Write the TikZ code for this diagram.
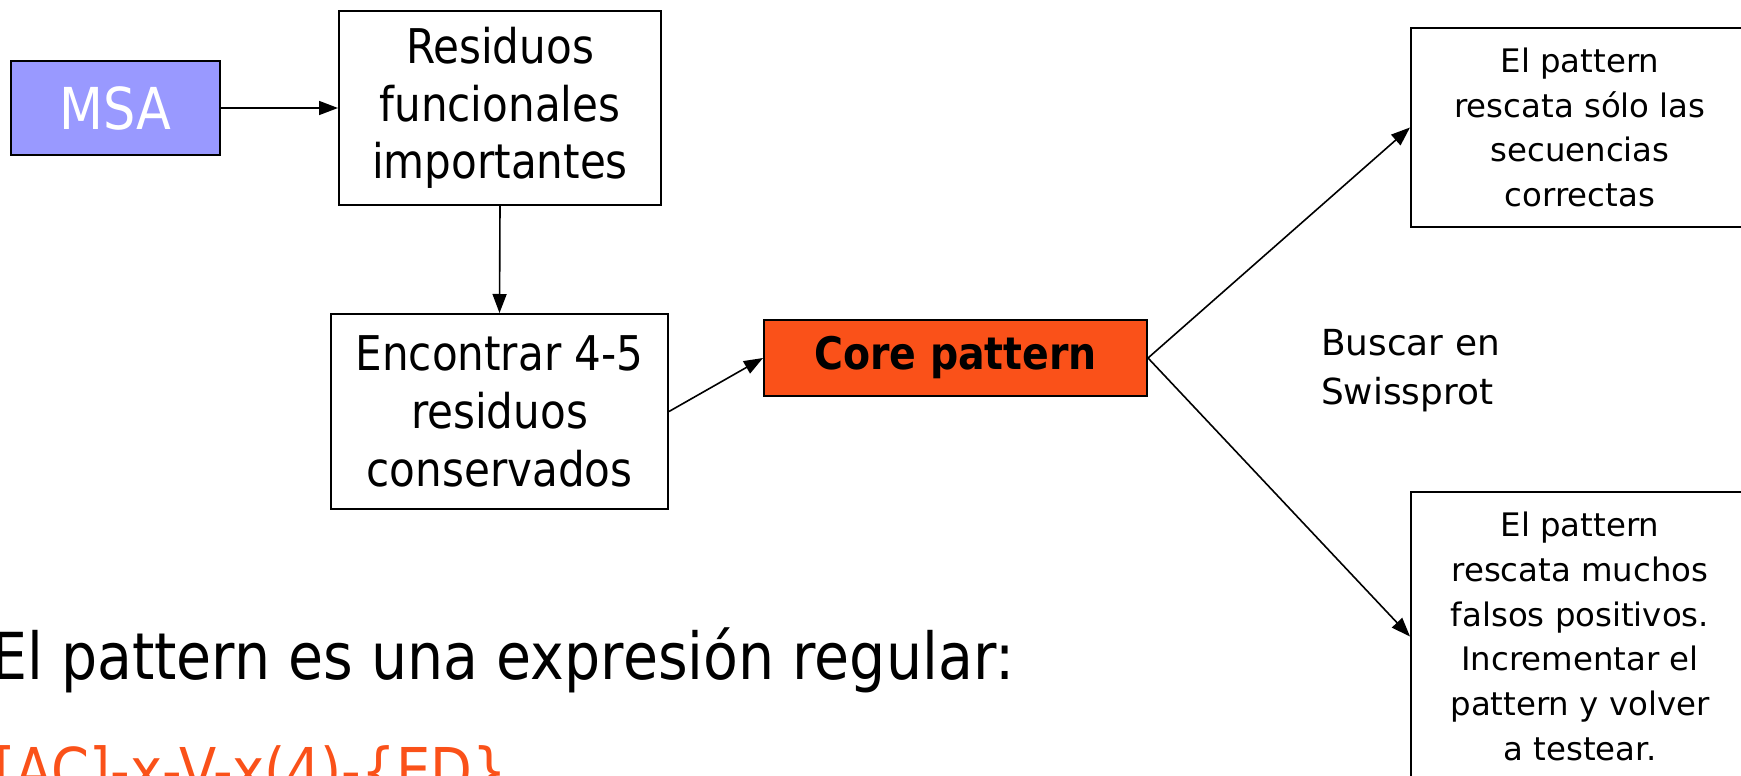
\documentclass[tikz,border=0pt]{standalone}
\usepackage{fontspec}
\setmainfont{DejaVu Sans}
\newfontfamily\narrowsans{DejaVu Sans}[FakeStretch=0.88]
\usetikzlibrary{arrows.meta}
\definecolor{msablue}{HTML}{9999FF}
\definecolor{coreorange}{HTML}{FA5119}

\begin{document}
\begin{tikzpicture}[x=1bp,y=-1bp,
  box/.style={draw=black, line width=2bp, inner sep=0pt, align=center},
  flowbox/.style={box, fill=white, font=\narrowsans\fontsize{48}{58}\selectfont},
  notebox/.style={box, fill=white, font=\fontsize{32.5}{45}\selectfont},
  link/.style={-{Triangle[length=19bp,width=14bp]}, line width=1.6bp},
]
\useasboundingbox (0,0) rectangle (1741,776);
\clip (0,0) rectangle (1741,776);

% flow of the pattern construction
\node[box, fill=msablue, text=white, minimum width=209bp, minimum height=94bp,
      font=\narrowsans\fontsize{58}{64}\selectfont] (msa) at (115.5,108) {MSA};
\node[flowbox, minimum width=322bp, minimum height=194bp] (res) at (500,108)
  {Residuos\\funcionales\\importantes};
\node[flowbox, minimum width=337bp, minimum height=195bp] (enc) at (499.5,411.5)
  {Encontrar 4-5\\residuos\\conservados};
\node[box, fill=coreorange, minimum width=383bp, minimum height=76bp,
      font=\narrowsans\bfseries\fontsize{45}{50}\selectfont] (core) at (955.5,358) {Core pattern};

% outcomes of the search
\node[notebox, minimum width=338bp, minimum height=199bp] (hit) at (1580,127.5)
  {El pattern\\rescata sólo las\\secuencias\\correctas};
\node[notebox, minimum width=338bp, minimum height=289bp] (miss) at (1580,636.5)
  {El pattern\\rescata muchos\\falsos positivos.\\Incrementar el\\pattern y volver\\a testear.};
\node[anchor=west, align=left, inner sep=0pt, font=\fontsize{36}{49}\selectfont] (search)
  at (1321,371) {Buscar en\\Swissprot};

% explanation below
\node[anchor=base west, inner sep=0pt, font=\narrowsans\fontsize{65}{70}\selectfont] (rule)
  at (-9,679) {El pattern es una expresión regular:};
\node[anchor=base west, inner sep=0pt, text=coreorange, font=\narrowsans\fontsize{62}{66}\selectfont] (regex)
  at (-6,792) {[AC]-x-V-x(4)-\{ED\}};

% connectors
\draw[link] (msa.east) -- (res.west);
\draw[link] (res.south) -- (enc.north);
\draw[link] (enc.east) -- (core.west);
\draw[link] (core.east) -- (hit.west);
\draw[link] (core.east) -- (miss.west);
\end{tikzpicture}
\end{document}
